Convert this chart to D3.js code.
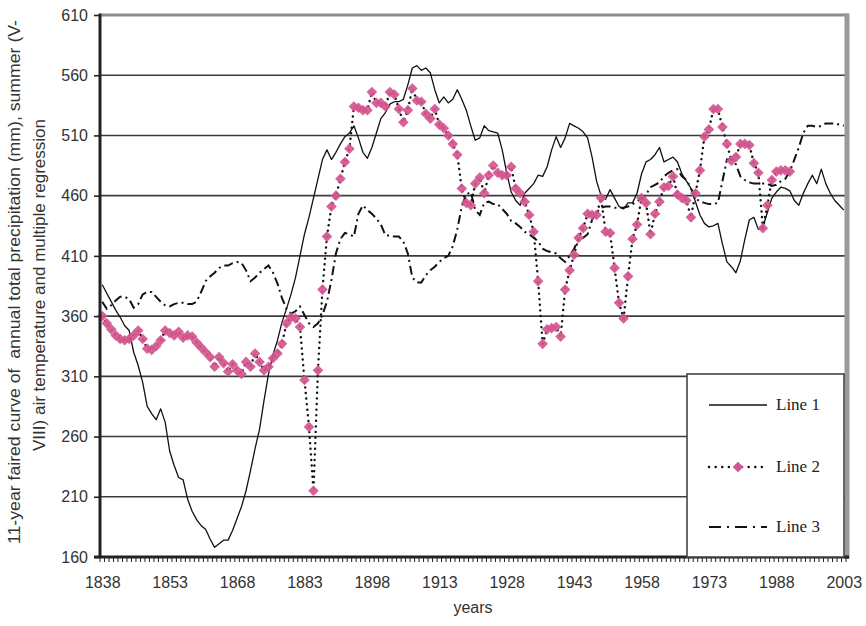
<!DOCTYPE html>
<html>
<head>
<meta charset="utf-8">
<script src="https://cdn.jsdelivr.net/npm/d3@7"></script>
<style>
  html, body { margin: 0; padding: 0; background: #fff; }
  svg { display: block; }
  text { font-family: Arial, "Liberation Sans", sans-serif; }
  text.serif { font-family: "Liberation Serif", "Times New Roman", serif; }
</style>
</head>
<body>
<svg id="chart" width="866" height="626"></svg>
<script>
// Years on the category axis
const firstYear = 1838, lastYear = 2003;
const years = d3.range(firstYear, lastYear + 1);

// Labelled years on the x axis and value ticks on the y axis
const xTickLabels = [1838, 1853, 1868, 1883, 1898, 1913, 1928, 1943, 1958, 1973, 1988, 2003];
const yTicks = [160, 210, 260, 310, 360, 410, 460, 510, 560, 610];

// Line 1: 11-year faired curve, 1838-2003
const line1 = [
  386,379,372,365,359,352,348,330,319,305,
  285,279,274,283,272,248,236,226,224,208,
  198,191,186,183,175,168,171,174,174,182,
  192,202,215,232,250,266,290,312,328,340,
  355,366,378,392,410,428,442,458,474,490,
  498,490,496,503,509,512,518,508,496,491,
  500,512,524,529,536,538,538,540,552,566,
  568,564,566,562,548,537,542,537,540,548,
  540,531,518,506,508,518,514,513,512,498,
  479,463,456,452,462,466,470,477,476,484,
  498,509,500,508,520,518,516,513,508,492,
  472,460,457,465,458,451,449,454,454,462,
  478,488,490,494,500,488,490,492,488,478,
  472,466,455,444,437,434,435,437,420,405,
  401,396,406,424,440,442,432,434,446,458,
  463,467,466,464,456,452,462,470,477,470,
  482,470,462,456,452,448
];

// Line 2: 1838-1991
const line2Start = 1838;
const line2 = [
  360,354,349,344,341,340,341,344,348,341,
  333,332,335,340,348,346,344,347,342,344,
  343,338,334,330,326,318,326,321,314,320,
  315,312,322,318,329,322,315,318,325,329,
  337,354,359,358,351,307,268,215,315,382,
  426,451,460,474,488,499,534,533,531,531,
  546,537,537,534,546,544,532,521,531,549,
  539,538,528,524,532,519,516,510,503,494,
  466,454,452,470,475,462,477,485,479,477,
  477,484,466,462,455,444,430,389,337,349,
  350,351,343,382,398,411,425,433,445,444,
  444,458,430,429,400,371,358,393,424,436,
  458,454,428,445,455,467,468,476,461,458,
  456,442,462,481,509,515,532,532,517,503,
  489,492,503,503,502,487,479,433,452,473,
  480,481,481,480
];

// Line 3: 1838-2003
const line3 = [
  372,366,369,373,376,376,374,367,370,378,
  380,380,376,372,369,368,370,371,371,370,
  370,372,380,389,393,396,400,402,402,404,
  405,404,398,389,392,396,399,402,396,387,
  375,366,362,364,368,361,354,351,354,361,
  372,390,412,424,429,428,426,445,452,448,
  445,441,436,427,427,426,426,422,412,392,
  388,388,394,398,401,405,408,410,418,432,
  451,461,463,448,444,454,455,453,453,449,
  445,439,437,434,430,428,425,422,416,414,
  413,412,408,405,410,416,424,425,428,440,
  446,450,451,451,450,450,450,451,453,455,
  458,461,467,469,471,476,479,481,482,476,
  473,466,458,455,454,453,453,454,472,490,
  490,486,476,473,471,470,470,470,470,468,
  469,472,474,480,490,500,512,518,518,517,
  518,520,520,520,519,518
];

const seriesNames = ["Line 1", "Line 2", "Line 3"];

const plot = { left: 100, right: 846, top: 15, bottom: 557 };
const svg = d3.select("#chart");

const x = d3.scalePoint().domain(years).range([plot.left, plot.right]).padding(0.5);
const y = d3.scaleLinear().domain([160, 610]).range([plot.bottom, plot.top]);
const step = x.step();

// horizontal gridlines
svg.append("g")
  .selectAll("line")
  .data(yTicks.filter(v => v > 160 && v < 610))
  .join("line")
  .attr("x1", plot.left).attr("x2", plot.right)
  .attr("y1", d => y(d)).attr("y2", d => y(d))
  .attr("stroke", "#3c3c3c").attr("stroke-width", 1.6);

// plot frame: grey top and right edges
svg.append("line")
  .attr("x1", plot.left).attr("x2", plot.right + 2)
  .attr("y1", y(610)).attr("y2", y(610))
  .attr("stroke", "#8c8c8c").attr("stroke-width", 3);
svg.append("line")
  .attr("x1", plot.right + 1).attr("x2", plot.right + 1)
  .attr("y1", y(610) - 1.5).attr("y2", plot.bottom + 2)
  .attr("stroke", "#9a9a9a").attr("stroke-width", 5);

const pts = (arr, start) => arr.map((v, i) => [start + i, v]);
const lineGen = d3.line().x(d => x(d[0])).y(d => y(d[1]));

// Line 1: solid
svg.append("path")
  .attr("d", lineGen(pts(line1, firstYear)))
  .attr("fill", "none").attr("stroke", "#111").attr("stroke-width", 1.3)
  .attr("stroke-linejoin", "round");

// Line 3: dash-dot
svg.append("path")
  .attr("d", lineGen(pts(line3, firstYear)))
  .attr("fill", "none").attr("stroke", "#111").attr("stroke-width", 2)
  .attr("stroke-dasharray", "9,4,2,4");

// Line 2: dotted with diamond markers
const l2 = pts(line2, line2Start);
svg.append("path")
  .attr("d", lineGen(l2))
  .attr("fill", "none").attr("stroke", "#111").attr("stroke-width", 2.4)
  .attr("stroke-dasharray", "0.1,5.5").attr("stroke-linecap", "round");

const diamond = d3.symbol().type(d3.symbolDiamond2).size(72);
svg.append("g")
  .selectAll("path")
  .data(l2)
  .join("path")
  .attr("d", diamond)
  .attr("transform", d => `translate(${x(d[0])},${y(d[1])})`)
  .attr("fill", "#d4558f").attr("fill-opacity", 0.92);

// y axis
const yAxis = svg.append("g")
  .attr("transform", `translate(${plot.left},0)`)
  .call(d3.axisLeft(y).tickValues(yTicks).tickSize(6).tickSizeOuter(0).tickPadding(6));
yAxis.select(".domain").remove();
yAxis.selectAll(".tick line").attr("stroke", "#222").attr("stroke-width", 1.6);
yAxis.selectAll(".tick text").attr("font-size", 16).attr("fill", "#333");

// x axis labels
const xAxis = svg.append("g")
  .attr("transform", `translate(0,${plot.bottom})`)
  .call(d3.axisBottom(x).tickValues(xTickLabels).tickSize(0).tickPadding(20));
xAxis.select(".domain").remove();
xAxis.selectAll(".tick text").attr("font-size", 16).attr("fill", "#333");

// yearly minor ticks on the category boundaries
svg.append("g")
  .selectAll("line")
  .data(d3.range(years.length + 1))
  .join("line")
  .attr("x1", i => plot.left + i * step).attr("x2", i => plot.left + i * step)
  .attr("y1", plot.bottom).attr("y2", plot.bottom + 5)
  .attr("stroke", "#222").attr("stroke-width", 1);

// axis lines
svg.append("line")
  .attr("x1", plot.left).attr("x2", plot.left)
  .attr("y1", plot.top - 1.5).attr("y2", plot.bottom + 1)
  .attr("stroke", "#222").attr("stroke-width", 3);
svg.append("line")
  .attr("x1", plot.left - 6).attr("x2", plot.right + 3)
  .attr("y1", plot.bottom).attr("y2", plot.bottom)
  .attr("stroke", "#222").attr("stroke-width", 3);

// axis titles
svg.append("text")
  .attr("x", 473).attr("y", 613)
  .attr("text-anchor", "middle").attr("font-size", 16).attr("fill", "#333")
  .text("years");

const yTitle = [
  "11-year faired curve of  annual total precipitation (mm), summer (V-",
  "VIII) air temperature and multiple regression"
];
svg.append("g").selectAll("text")
  .data(yTitle)
  .join("text")
  .attr("transform", (d, i) => `translate(${i === 0 ? 20 : 45},${i === 0 ? 282 : 285}) rotate(-90)`)
  .attr("text-anchor", "middle").attr("font-size", 16).attr("fill", "#333")
  .attr("textLength", (d, i) => i === 0 ? 524 : 332)
  .attr("lengthAdjust", "spacingAndGlyphs")
  .style("white-space", "pre")
  .text(d => d);

// legend
const lg = svg.append("g");
lg.append("rect")
  .attr("x", 687).attr("y", 374).attr("width", 157).attr("height", 183)
  .attr("fill", "#fff").attr("stroke", "#444").attr("stroke-width", 1.6);

const legendRows = [405, 467, 527];
const sx1 = 709, sx2 = 767;
lg.append("line").attr("x1", sx1).attr("x2", sx2)
  .attr("y1", legendRows[0]).attr("y2", legendRows[0])
  .attr("stroke", "#111").attr("stroke-width", 1.3);
lg.append("line").attr("x1", sx1).attr("x2", sx2)
  .attr("y1", legendRows[1]).attr("y2", legendRows[1])
  .attr("stroke", "#111").attr("stroke-width", 2.4)
  .attr("stroke-dasharray", "0.1,6.5").attr("stroke-linecap", "round");
lg.append("path").attr("d", diamond)
  .attr("transform", `translate(${(sx1 + sx2) / 2},${legendRows[1]})`)
  .attr("fill", "#d4558f");
lg.append("line").attr("x1", sx1).attr("x2", sx2)
  .attr("y1", legendRows[2]).attr("y2", legendRows[2])
  .attr("stroke", "#111").attr("stroke-width", 2)
  .attr("stroke-dasharray", "12,6,2,6");

lg.selectAll("text.serif")
  .data(seriesNames)
  .join("text")
  .attr("class", "serif")
  .attr("x", 776).attr("y", (d, i) => legendRows[i] + 5)
  .attr("font-size", 17).attr("fill", "#222")
  .text(d => d);
</script>
</body>
</html>
